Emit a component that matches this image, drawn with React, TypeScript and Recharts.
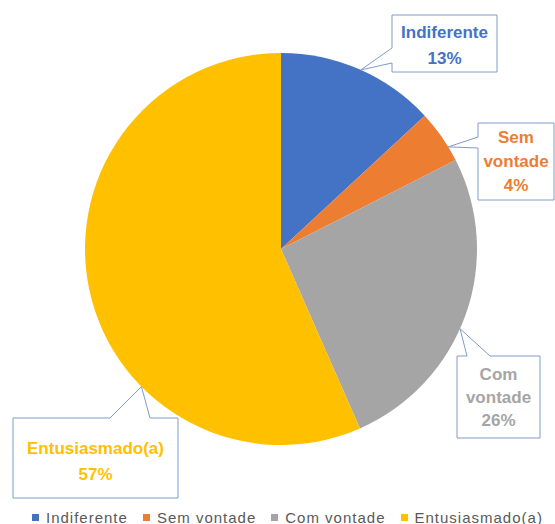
import { PieChart, Pie, Cell, Legend } from "recharts";

const categories = ["Indiferente", "Sem vontade", "Com vontade", "Entusiasmado(a)"];
const shares = [13.1, 4.4, 25.9, 56.6];
const colors = ["#4472C4", "#ED7D31", "#A5A5A5", "#FFC000"];

// label lines as shown in each callout (name split where the box wraps it)
const labelLines = [["Indiferente"], ["Sem", "vontade"], ["Com", "vontade"], ["Entusiasmado(a)"]];

const data = categories.map((name, i) => ({ name, value: shares[i] }));

// callout boxes: rect, which side the pointer leaves from, pointer base span, tip angle (deg clockwise from top)
const callouts = [
  { x: 392, y: 15, w: 105, h: 57, side: "left", b1: 48, b2: 63, tip: 24, firstLine: 32, lineH: 26 },
  { x: 478, y: 123, w: 76, h: 77, side: "left", b1: 137, b2: 148, tip: 58.6, firstLine: 137, lineH: 24 },
  { x: 457, y: 356, w: 83, h: 82, side: "top", b1: 467, b2: 490, tip: 114, firstLine: 374, lineH: 23 },
  { x: 13, y: 418, w: 165, h: 80, side: "top", b1: 110, b2: 150, tip: 225.4, firstLine: 448, lineH: 26 },
];

const BORDER = "#7F9CC9";
const FONT = "'Liberation Sans', Arial, sans-serif";

function renderCallout(props: any) {
  const { cx, cy, outerRadius, index, percent } = props;
  const c = callouts[index];
  const a = (c.tip * Math.PI) / 180;
  const tx = cx + outerRadius * Math.sin(a);
  const ty = cy - outerRadius * Math.cos(a);
  let d = "";
  if (c.side === "left") {
    d = `M${c.x},${c.y} L${c.x + c.w},${c.y} L${c.x + c.w},${c.y + c.h} L${c.x},${c.y + c.h} L${c.x},${c.b2} L${tx},${ty} L${c.x},${c.b1} Z`;
  } else {
    d = `M${c.x},${c.y} L${c.b1},${c.y} L${tx},${ty} L${c.b2},${c.y} L${c.x + c.w},${c.y} L${c.x + c.w},${c.y + c.h} L${c.x},${c.y + c.h} Z`;
  }
  const lines = [...labelLines[index], `${Math.round(percent * 100)}%`];
  const mid = c.x + c.w / 2;
  return (
    <g key={`callout-${index}`}>
      <path d={d} fill="#fff" stroke={BORDER} strokeWidth={1} />
      {lines.map((t, j) => (
        <text
          key={j}
          x={mid}
          y={c.firstLine + j * c.lineH}
          textAnchor="middle"
          dominantBaseline="central"
          fill={colors[index]}
          fontFamily={FONT}
          fontWeight="bold"
          fontSize={17}
        >
          {t}
        </text>
      ))}
    </g>
  );
}

function renderLegend() {
  return (
    <div
      style={{
        display: "flex",
        alignItems: "center",
        paddingLeft: 32,
        height: 20,
        fontFamily: FONT,
        fontSize: 15,
        letterSpacing: 1,
        color: "#595959",
        whiteSpace: "nowrap",
      }}
    >
      {categories.map((name, i) => (
        <span key={name} style={{ display: "flex", alignItems: "center", marginRight: 15, flexShrink: 0 }}>
          <span style={{ width: 7, height: 7, background: colors[i], marginRight: 7, display: "inline-block" }} />
          {name}
        </span>
      ))}
    </div>
  );
}

export default function App() {
  return (
    <div style={{ position: "absolute", left: 0, top: 0, background: "#fff" }}>
      <PieChart width={555} height={524} margin={{ top: 0, right: 0, bottom: 0, left: 0 }}>
        <Pie
          data={data}
          dataKey="value"
          nameKey="name"
          cx={281}
          cy={249}
          outerRadius={196}
          startAngle={90}
          endAngle={-270}
          stroke="none"
          label={renderCallout}
          labelLine={false}
          isAnimationActive={false}
        >
          {data.map((d, i) => (
            <Cell key={d.name} fill={colors[i]} />
          ))}
        </Pie>
        <Legend content={renderLegend} wrapperStyle={{ left: 0, top: 507, width: 555 }} />
      </PieChart>
    </div>
  );
}
